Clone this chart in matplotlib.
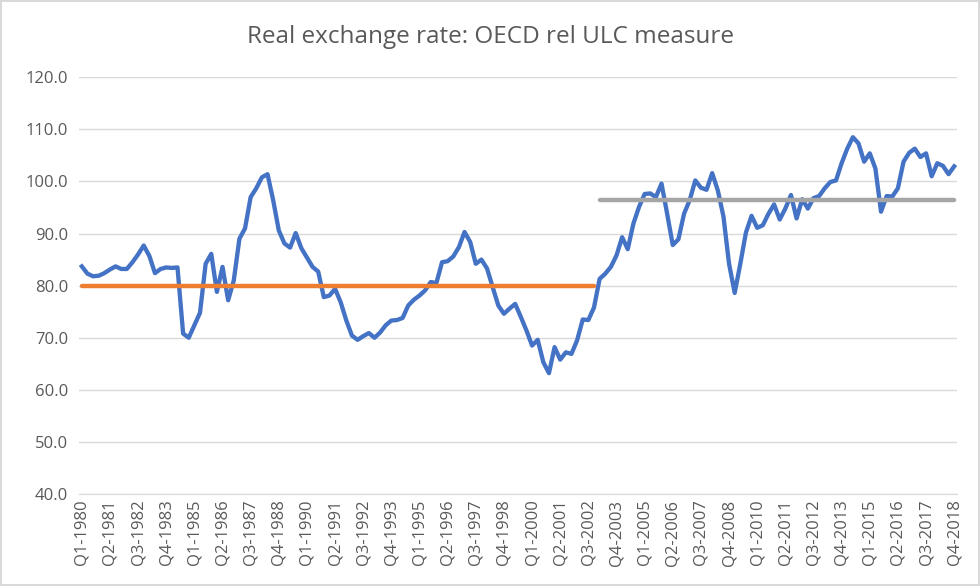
import matplotlib.pyplot as plt
import numpy as np

plt.rcParams['font.family'] = ['Open Sans', 'DejaVu Sans']

# quarterly real exchange rate, Q1-1980 .. Q4-2018
rer = [
    83.7, 82.3, 81.8, 81.9, 82.4, 83.1, 83.7, 83.2, 83.2, 84.5,
    86.0, 87.7, 85.7, 82.4, 83.2, 83.5, 83.4, 83.5, 70.8, 70.0,
    72.4, 74.8, 84.2, 86.1, 78.8, 83.6, 77.2, 81.0, 89.0, 91.0,
    97.0, 98.7, 100.8, 101.4, 96.4, 90.6, 88.1, 87.3, 90.1, 87.2,
    85.4, 83.6, 82.7, 77.8, 78.1, 79.4, 76.8, 73.3, 70.4, 69.6,
    70.3, 70.9, 70.0, 71.0, 72.4, 73.3, 73.4, 73.8, 76.2, 77.3,
    78.1, 79.1, 80.7, 80.5, 84.5, 84.7, 85.6, 87.4, 90.3, 88.4,
    84.2, 85.0, 83.3, 79.7, 76.2, 74.6, 75.6, 76.5, 74.0, 71.4,
    68.5, 69.6, 65.3, 63.2, 68.2, 65.8, 67.2, 66.9, 69.5, 73.5,
    73.4, 75.8, 81.3, 82.3, 83.6, 85.8, 89.3, 87.0, 91.9, 95.1,
    97.6, 97.7, 97.0, 99.6, 93.8, 87.8, 88.9, 93.8, 96.4, 100.2,
    98.8, 98.4, 101.6, 98.3, 93.3, 84.2, 78.6, 84.2, 90.2, 93.4,
    91.1, 91.6, 93.8, 95.6, 92.7, 94.8, 97.4, 92.9, 96.6, 94.8,
    96.8, 97.2, 98.7, 99.9, 100.2, 103.5, 106.3, 108.5, 107.3, 103.8,
    105.4, 102.5, 94.2, 97.2, 97.1, 98.7, 103.8, 105.5, 106.3, 104.7,
    105.4, 101.0, 103.5, 103.0, 101.4, 102.9,
]
years = list(range(1980, 2019))
quarters = [f"Q{q}-{y}" for y in years for q in range(1, 5)]

# period averages (orange up to Q4-2002, grey after)
avg1_end = 91
avg1 = 80.0
avg2 = 96.4

x = np.arange(len(rer))

fig = plt.figure(figsize=(9.8, 5.86), dpi=100)
fig.patch.set_edgecolor('#d9d9d9')
fig.patch.set_linewidth(1.5)
ax = fig.add_axes([79 / 980, 1 - 494 / 586, (957 - 79) / 980, (494 - 77.3) / 586])

ax.plot(x, rer, color='#4472C4', lw=3.1, solid_joinstyle='round', zorder=3)
ax.plot(x[:avg1_end + 1], [avg1] * (avg1_end + 1), color='#ED7D31', lw=3.2,
        solid_capstyle='round', zorder=4)
ax.plot(x[avg1_end + 1:], [avg2] * (len(rer) - avg1_end - 1), color='#A5A5A5', lw=3.2,
        solid_capstyle='round', zorder=4)

ax.set_ylim(40, 120)
ax.set_yticks(np.arange(40, 121, 10))
ax.set_yticklabels([f"{v:.1f}" for v in np.arange(40, 121, 10)])
ax.set_xlim(-0.5, len(rer) - 0.5)
ax.set_xticks(x[::5])
ax.set_xticklabels(quarters[::5], rotation=90)

ax.grid(axis='y', color='#d9d9d9', lw=1)
ax.set_axisbelow(True)
for s in ['left', 'right', 'top']:
    ax.spines[s].set_visible(False)
ax.spines['bottom'].set_color('#d9d9d9')
ax.tick_params(length=0, colors='#595959', labelsize=12)
ax.tick_params(axis='y', pad=8)
ax.tick_params(axis='x', pad=4)

fig.text(0.5, 1 - 37 / 586, 'Real exchange rate: OECD rel ULC measure',
         ha='center', va='center', fontsize=17.5, color='#595959')

fig.savefig('out.png', dpi=100)
